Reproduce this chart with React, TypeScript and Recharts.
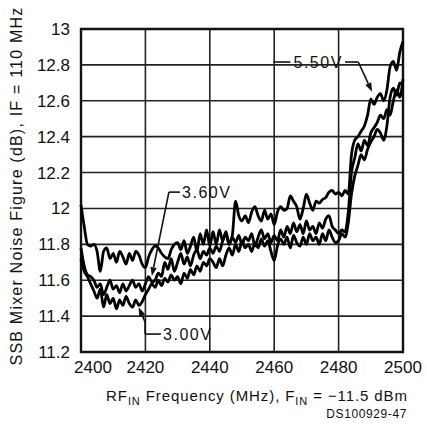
import React from 'react'
import {
  LineChart,
  Line,
  XAxis,
  YAxis,
  CartesianGrid,
  ReferenceArea,
  ReferenceLine,
  ReferenceDot,
} from 'recharts'

// RF input sweep, 1 MHz steps
const freqs = Array.from({ length: 101 }, (_, i) => 2400 + i)

// noise figure traces (dB) at each supply voltage
const nf550 = [
  12.02, 11.9, 11.8, 11.79, 11.8, 11.76, 11.65, 11.76, 11.78, 11.72,
  11.75, 11.7, 11.76, 11.73, 11.69, 11.75, 11.71, 11.76, 11.74, 11.69,
  11.67, 11.73, 11.77, 11.79, 11.78, 11.75, 11.73, 11.72, 11.77, 11.8,
  11.81, 11.77, 11.82, 11.75, 11.79, 11.84, 11.76, 11.86, 11.8, 11.88,
  11.79, 11.87, 11.8, 11.88, 11.82, 11.87, 11.8, 11.85, 12.04, 11.96,
  11.93, 11.96, 11.92, 11.98, 12.01, 11.96, 11.93, 11.99, 11.94, 11.97,
  11.91, 11.98, 12.01, 11.99, 12.0, 12.07, 12.04, 12.01, 11.94, 12.0,
  12.08, 12.03, 11.99, 12.04, 12.03, 12.05, 12.06, 12.09, 12.1, 12.08,
  12.09, 12.07, 12.1, 12.08, 12.3, 12.38, 12.4, 12.43, 12.46, 12.52,
  12.61, 12.58, 12.62, 12.64, 12.6, 12.66, 12.79, 12.82, 12.77, 12.87,
  12.93,
]
const nf360 = [
  11.78, 11.68, 11.63, 11.62, 11.6, 11.56, 11.58, 11.52, 11.56, 11.6,
  11.55, 11.57, 11.53, 11.58, 11.54, 11.57, 11.6, 11.56, 11.58, 11.54,
  11.58, 11.62, 11.59, 11.6, 11.64, 11.62, 11.7, 11.66, 11.72, 11.65,
  11.7, 11.75, 11.69, 11.73, 11.68, 11.74, 11.77, 11.72, 11.76, 11.74,
  11.78, 11.75, 11.79, 11.76, 11.82, 11.86, 11.8, 11.84, 11.81, 11.85,
  11.8, 11.84, 11.82, 11.86, 11.79, 11.84, 11.88, 11.83, 11.86, 11.81,
  11.85, 11.82, 11.88, 11.84, 11.9, 11.86, 11.92, 11.87, 11.91, 11.86,
  11.93, 11.88, 11.9, 11.86, 11.92, 11.89, 11.94, 11.96, 11.9, 11.88,
  11.86, 11.88, 11.87, 11.98, 12.2, 12.28, 12.36, 12.32, 12.38, 12.35,
  12.42, 12.45, 12.48, 12.52, 12.5, 12.55, 12.52, 12.6, 12.66, 12.62,
  12.72,
]
const nf300 = [
  11.72, 11.65, 11.62, 11.58, 11.54, 11.5, 11.55, 11.45, 11.52, 11.47,
  11.5, 11.44, 11.49, 11.46, 11.51, 11.47, 11.45, 11.49, 11.46, 11.48,
  11.52, 11.55, 11.58, 11.56, 11.6, 11.57, 11.61, 11.59, 11.63, 11.6,
  11.62, 11.58, 11.64, 11.61, 11.66, 11.63, 11.68, 11.65, 11.7, 11.68,
  11.72, 11.7, 11.67, 11.72, 11.68, 11.74, 11.78, 11.74, 11.8, 11.76,
  11.82, 11.78, 11.8, 11.76, 11.81, 11.78, 11.83, 11.79, 11.82, 11.76,
  11.71, 11.79, 11.83, 11.8, 11.84, 11.78, 11.85, 11.81, 11.79, 11.84,
  11.8, 11.86, 11.82, 11.84, 11.8, 11.86, 11.82, 11.88, 11.84, 11.81,
  11.82, 11.86, 11.84, 11.92, 12.08, 12.18, 12.24, 12.3, 12.27, 12.33,
  12.37, 12.4, 12.44, 12.42, 12.38, 12.46, 12.62, 12.67, 12.63, 12.7,
  12.68,
]

const xTicks = [2400, 2420, 2440, 2460, 2480, 2500]
const yTicks = [11.2, 11.4, 11.6, 11.8, 12, 12.2, 12.4, 12.6, 12.8, 13]

const data = freqs.map((f, i) => ({
  f,
  v550: nf550[i],
  v360: nf360[i],
  v300: nf300[i],
}))

const FONT = '"Liberation Sans", Arial, sans-serif'
const INK = '#111'

// plain leader segment
const Leader = (p: any) => (
  <line x1={p.x1} y1={p.y1} x2={p.x2} y2={p.y2} stroke={INK} strokeWidth={1.6} />
)

// leader segment ending in a filled arrowhead at (x2, y2)
const Arrow = (p: any) => {
  const { x1, y1, x2, y2 } = p
  const a = Math.atan2(y2 - y1, x2 - x1)
  const len = 9
  const half = 3.2
  const bx = x2 - len * Math.cos(a)
  const by = y2 - len * Math.sin(a)
  const pts = [
    `${x2},${y2}`,
    `${bx - half * Math.sin(a)},${by + half * Math.cos(a)}`,
    `${bx + half * Math.sin(a)},${by - half * Math.cos(a)}`,
  ].join(' ')
  return (
    <g>
      <line x1={x1} y1={y1} x2={bx} y2={by} stroke={INK} strokeWidth={1.6} />
      <polygon points={pts} fill={INK} />
    </g>
  )
}

const noteText = (text: string) => (p: any) => (
  <text
    x={p.cx}
    y={p.cy}
    dy="0.36em"
    fontFamily={FONT}
    fontSize={16}
    letterSpacing={1.5}
    fill={INK}
  >
    {text}
  </text>
)

const XTick = (p: any) => {
  const v = p.payload.value
  return (
    <text
      x={p.x + (v === 2400 ? 12 : 0)}
      y={p.y}
      dy={13}
      textAnchor="middle"
      fontFamily={FONT}
      fontSize={17}
      fill={INK}
    >
      {v}
    </text>
  )
}

const XTitle = () => (
  <g fontFamily={FONT} fill={INK}>
    <text x={257} y={401} textAnchor="middle" fontSize={15} letterSpacing={0.9}>
      RF
      <tspan fontSize={11} dy={4}>
        IN
      </tspan>
      <tspan dy={-4}> Frequency (MHz), F</tspan>
      <tspan fontSize={11} dy={4}>
        IN
      </tspan>
      <tspan dy={-4}> = −11.5 dBm</tspan>
    </text>
    <text x={407} y={418} textAnchor="end" fontSize={12} letterSpacing={0.6}>
      DS100929-47
    </text>
  </g>
)

const YTitle = () => (
  <text
    x={22}
    y={186}
    transform="rotate(-90, 22, 186)"
    textAnchor="middle"
    fontFamily={FONT}
    fontSize={16}
    letterSpacing={1.2}
    fill={INK}
  >
    SSB Mixer Noise Figure (dB), IF = 110 MHz
  </text>
)

export default function App() {
  return (
    <div style={{ position: 'absolute', left: 0, top: 0, background: '#fff' }}>
      <LineChart
        width={427}
        height={440}
        data={data}
        margin={{ top: 29, right: 24, bottom: 0, left: 0 }}
      >
        <CartesianGrid stroke="#222" strokeWidth={1.6} />
        <XAxis
          dataKey="f"
          type="number"
          domain={[2400, 2500]}
          ticks={xTicks}
          height={88}
          axisLine={false}
          tickLine={false}
          tick={<XTick />}
          label={{ content: () => <XTitle /> }}
        />
        <YAxis
          type="number"
          domain={[11.2, 13]}
          ticks={yTicks}
          width={81}
          axisLine={false}
          tickLine={false}
          tickMargin={5}
          tick={{ fontFamily: FONT, fontSize: 17, fill: INK }}
          tickFormatter={(v) => String(v)}
          label={{ content: () => <YTitle /> }}
        />
        <ReferenceArea
          x1={2400}
          x2={2500}
          y1={11.2}
          y2={13}
          fill="none"
          stroke={INK}
          strokeWidth={2.4}
          fillOpacity={0}
        />

        <Line type="monotone" dataKey="v300" stroke="#000" strokeWidth={2.8} dot={false} isAnimationActive={false} />
        <Line type="monotone" dataKey="v360" stroke="#000" strokeWidth={2.8} dot={false} isAnimationActive={false} />
        <Line type="monotone" dataKey="v550" stroke="#000" strokeWidth={2.8} dot={false} isAnimationActive={false} />

        {/* 5.50V callout */}
        <ReferenceLine segment={[{ x: 2459.7, y: 12.816 }, { x: 2465.0, y: 12.816 }]} shape={Leader} />
        <ReferenceLine segment={[{ x: 2482.0, y: 12.816 }, { x: 2486.1, y: 12.816 }]} shape={Leader} />
        <ReferenceLine segment={[{ x: 2486.1, y: 12.816 }, { x: 2490.4, y: 12.65 }]} shape={Arrow} />
        <ReferenceDot x={2466} y={12.816} shape={noteText('5.50V')} />

        {/* 3.60V callout */}
        <ReferenceLine segment={[{ x: 2427.3, y: 12.091 }, { x: 2430.7, y: 12.091 }]} shape={Leader} />
        <ReferenceLine segment={[{ x: 2427.3, y: 12.091 }, { x: 2422.0, y: 11.623 }]} shape={Arrow} />
        <ReferenceDot x={2431.4} y={12.091} shape={noteText('3.60V')} />

        {/* 3.00V callout */}
        <ReferenceLine segment={[{ x: 2419.9, y: 11.3 }, { x: 2424.8, y: 11.3 }]} shape={Leader} />
        <ReferenceLine segment={[{ x: 2419.9, y: 11.3 }, { x: 2419.9, y: 11.367 }]} shape={Leader} />
        <ReferenceLine segment={[{ x: 2419.9, y: 11.367 }, { x: 2417.9, y: 11.45 }]} shape={Arrow} />
        <ReferenceDot x={2425.5} y={11.3} shape={noteText('3.00V')} />
      </LineChart>
    </div>
  )
}
